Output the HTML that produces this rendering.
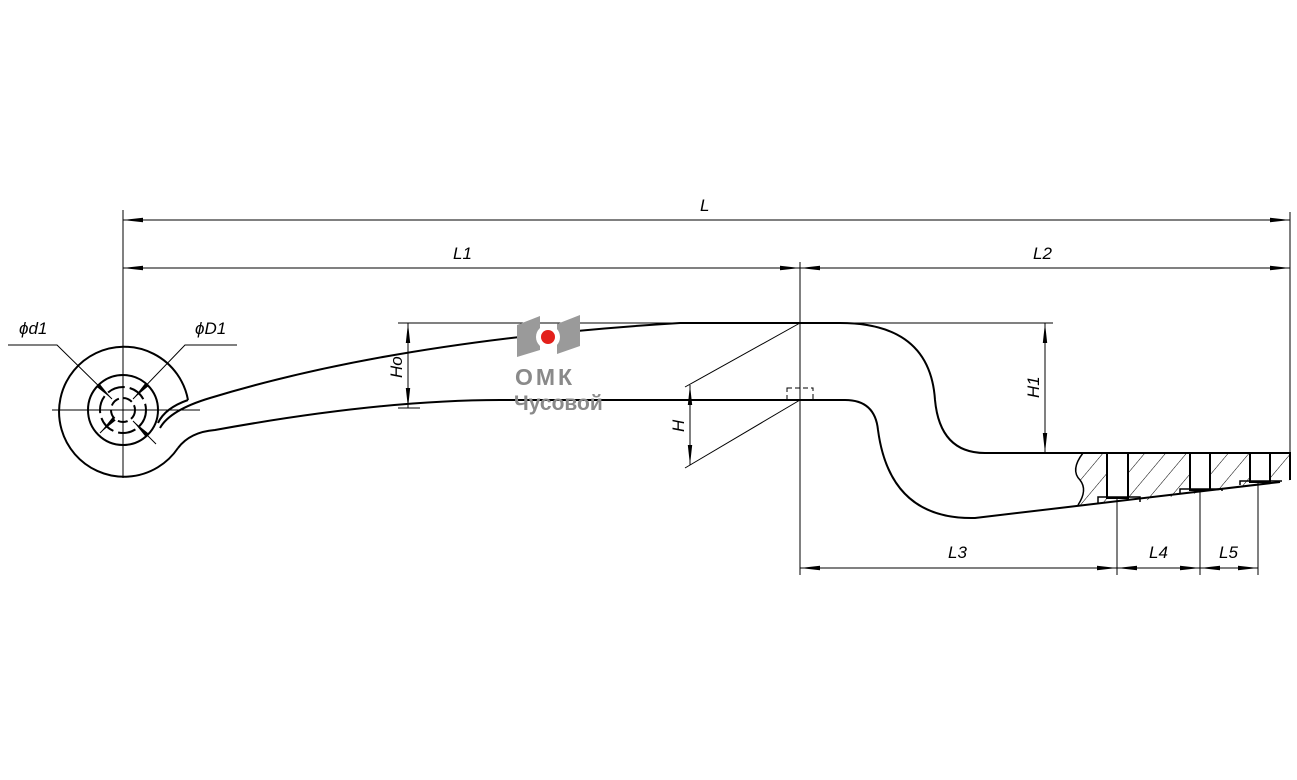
<!DOCTYPE html>
<html><head><meta charset="utf-8"><style>
html,body{margin:0;padding:0;background:#fff;}
svg text{font-family:"Liberation Sans",sans-serif;font-style:italic;font-size:17px;fill:#000;}
</style></head><body>
<svg width="1297" height="775" viewBox="0 0 1297 775" xmlns="http://www.w3.org/2000/svg">
<defs>
<marker id="a" viewBox="0 0 20 6" refX="20" refY="3" markerWidth="20" markerHeight="6" markerUnits="userSpaceOnUse" orient="auto-start-reverse"><path d="M0,0.8 L20,3 L0,5.2z" fill="#000"/></marker>
<pattern id="h" patternUnits="userSpaceOnUse" width="16" height="16" patternTransform="rotate(40)"><line x1="0" y1="0" x2="0" y2="16" stroke="#000" stroke-width="1"/></pattern>
</defs>
<g stroke="#000" fill="none" stroke-width="1">
<line x1="123" y1="210" x2="123" y2="478"/>
<line x1="800" y1="262" x2="800" y2="575"/>
<line x1="1290" y1="212" x2="1290" y2="453"/>
<line x1="1117" y1="453" x2="1117" y2="575"/>
<line x1="1200" y1="453" x2="1200" y2="575"/>
<line x1="1258" y1="453" x2="1258" y2="575"/>
<line x1="398" y1="323" x2="800" y2="323"/>
<line x1="398" y1="408" x2="420" y2="408"/>
<line x1="840" y1="323" x2="1053" y2="323"/>
<line x1="685" y1="387" x2="800" y2="323"/>
<line x1="685" y1="468" x2="800" y2="400"/>
<line x1="52" y1="410" x2="200" y2="410"/>
<line x1="123" y1="220" x2="1290" y2="220" marker-start="url(#a)" marker-end="url(#a)"/>
<line x1="123" y1="268" x2="800" y2="268" marker-start="url(#a)" marker-end="url(#a)"/>
<line x1="800" y1="268" x2="1290" y2="268" marker-start="url(#a)" marker-end="url(#a)"/>
<line x1="408" y1="323" x2="408" y2="408" marker-start="url(#a)" marker-end="url(#a)"/>
<line x1="1045" y1="323" x2="1045" y2="453" marker-start="url(#a)" marker-end="url(#a)"/>
<line x1="690" y1="385" x2="690" y2="465" marker-start="url(#a)" marker-end="url(#a)"/>
<line x1="800" y1="568" x2="1117" y2="568" marker-start="url(#a)" marker-end="url(#a)"/>
<line x1="1117" y1="568" x2="1200" y2="568" marker-start="url(#a)" marker-end="url(#a)"/>
<line x1="1200" y1="568" x2="1258" y2="568" marker-start="url(#a)" marker-end="url(#a)"/>
<rect x="787" y="388" width="26" height="12" stroke-dasharray="5,3"/>
<polyline points="8,345 57,345 112,399" marker-end="url(#a)"/>
<polyline points="237,345 185,345 133,399" marker-end="url(#a)"/>
<line x1="100" y1="433" x2="112" y2="421" marker-start="url(#a)"/>
<line x1="156" y1="444" x2="133" y2="421" marker-end="url(#a)"/>
</g>
<g stroke="#000" fill="none" stroke-width="2">
<path d="M188,400 A65,65 0 1 0 178,448"/>
<circle cx="123" cy="410" r="35"/>
<circle cx="123" cy="410" r="23" stroke-dasharray="18,5"/>
<circle cx="123" cy="410" r="12" stroke-dasharray="10,4"/>
<path d="M158,423 Q165,408 188,400"/>
<path d="M160,428 Q170,410 210,398 Q400,340 680,323 L840,323 Q930,323 935,400 Q940,453 985,453 L1290,453 L1290,480"/>
<path d="M178,448 Q190,432 215,430 Q380,400 500,400 L845,400 Q875,400 878,430 Q890,520 975,518 L1280,482"/>
<path d="M1083,453 Q1070,470 1080,480 Q1088,490 1078,505 L1115,501 L1115,497 L1140,497 L1140,501 L1280,482 L1290,480 L1290,453Z" fill="url(#h)" stroke="none"/>
<path d="M1083,453 Q1070,470 1080,480 Q1088,490 1078,505" stroke-width="1.5"/>
<rect x="1107" y="453" width="21" height="45" fill="#fff"/>
<rect x="1190" y="453" width="20" height="37" fill="#fff"/>
<rect x="1250" y="453" width="20" height="29" fill="#fff"/>
<polyline points="1098,503 1098,497 1140,497 1140,502" stroke-width="1.5"/>
<polyline points="1180,493 1180,489 1222,489 1222,491" stroke-width="1.5"/>
<polyline points="1240,485 1240,481 1282,481" stroke-width="1.5"/>
</g>
<polygon points="517,325 540,316 540,350 517,357" fill="#9a9a9a"/>
<polygon points="557,324 580,315 580,346 557,354" fill="#9a9a9a"/>
<circle cx="548" cy="337" r="12" fill="#fff"/>
<circle cx="548" cy="337" r="7" fill="#e3201b"/>
<text x="515" y="385" style="font-style:normal;font-weight:bold;font-size:23px;fill:#8a8a8a;letter-spacing:3px">ОМК</text>
<text x="514" y="410" style="font-style:normal;font-weight:bold;font-size:21px;fill:#8a8a8a">Чусовой</text>
<text x="700" y="211">L</text>
<text x="453" y="259">L1</text>
<text x="1033" y="259">L2</text>
<text x="948" y="558">L3</text>
<text x="1149" y="558">L4</text>
<text x="1219" y="558">L5</text>
<text x="19" y="334">ϕd1</text>
<text x="195" y="334">ϕD1</text>
<text transform="translate(402,378) rotate(-90)">Ho</text>
<text transform="translate(1039,398) rotate(-90)">H1</text>
<text transform="translate(684,432) rotate(-90)">H</text>
</svg>
</body></html>
